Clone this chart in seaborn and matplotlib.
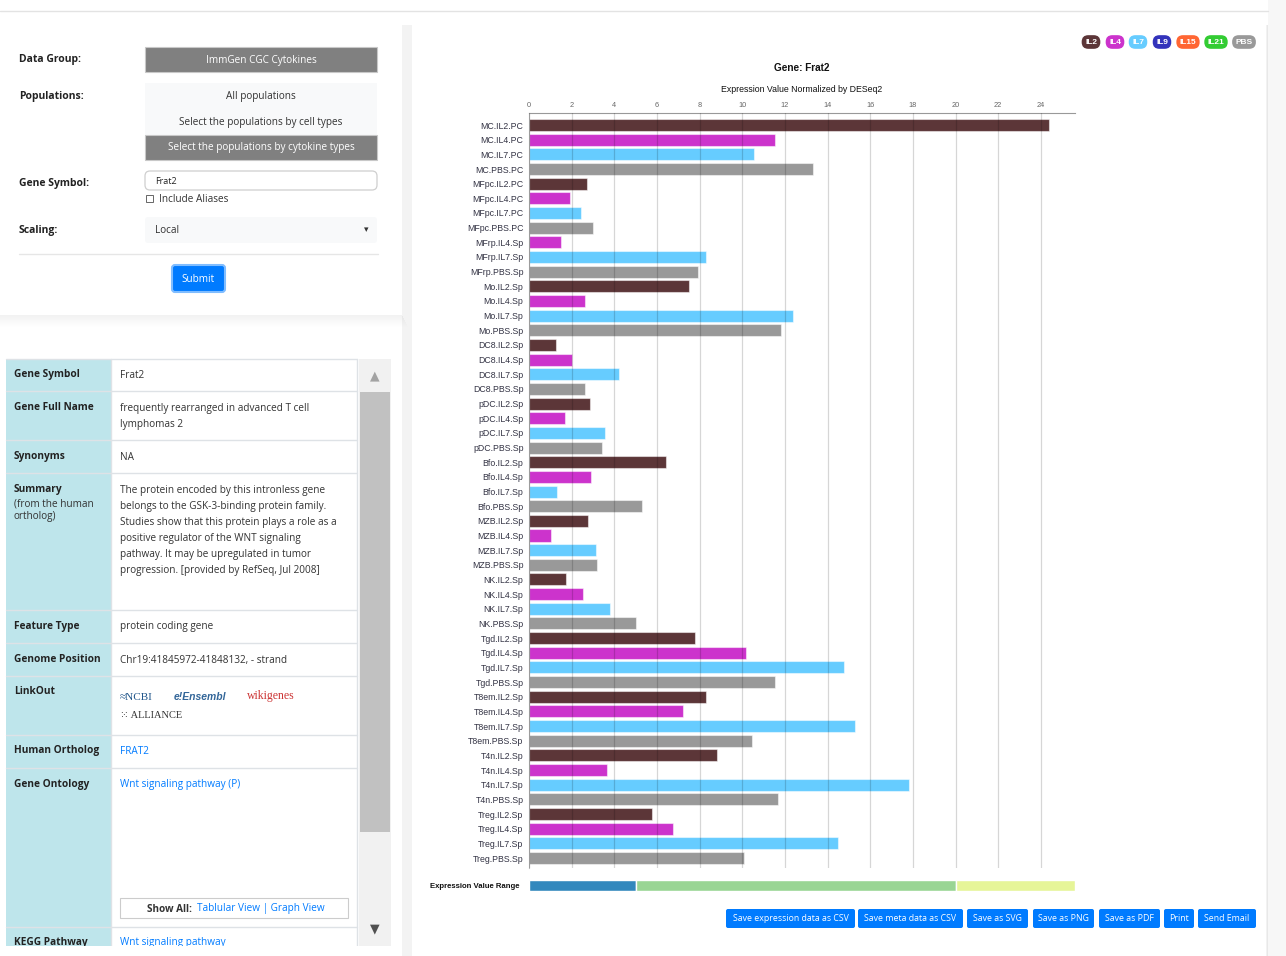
import matplotlib
matplotlib.use("Agg")
import matplotlib.pyplot as plt
from matplotlib.patches import FancyBboxPatch, Rectangle
import pandas as pd
import seaborn as sns

W, H = 1286, 956  # page size in pixels

# Expression data
samples = [
    "MC.IL2.PC", "MC.IL4.PC", "MC.IL7.PC", "MC.PBS.PC",
    "MFpc.IL2.PC", "MFpc.IL4.PC", "MFpc.IL7.PC", "MFpc.PBS.PC",
    "MFrp.IL4.Sp", "MFrp.IL7.Sp", "MFrp.PBS.Sp",
    "Mo.IL2.Sp", "Mo.IL4.Sp", "Mo.IL7.Sp", "Mo.PBS.Sp",
    "DC8.IL2.Sp", "DC8.IL4.Sp", "DC8.IL7.Sp", "DC8.PBS.Sp",
    "pDC.IL2.Sp", "pDC.IL4.Sp", "pDC.IL7.Sp", "pDC.PBS.Sp",
    "Bfo.IL2.Sp", "Bfo.IL4.Sp", "Bfo.IL7.Sp", "Bfo.PBS.Sp",
    "MZB.IL2.Sp", "MZB.IL4.Sp", "MZB.IL7.Sp", "MZB.PBS.Sp",
    "NK.IL2.Sp", "NK.IL4.Sp", "NK.IL7.Sp", "NK.PBS.Sp",
    "Tgd.IL2.Sp", "Tgd.IL4.Sp", "Tgd.IL7.Sp", "Tgd.PBS.Sp",
    "T8em.IL2.Sp", "T8em.IL4.Sp", "T8em.IL7.Sp", "T8em.PBS.Sp",
    "T4n.IL2.Sp", "T4n.IL4.Sp", "T4n.IL7.Sp", "T4n.PBS.Sp",
    "Treg.IL2.Sp", "Treg.IL4.Sp", "Treg.IL7.Sp", "Treg.PBS.Sp",
]
values = [
    24.4, 11.55, 10.55, 13.32,
    2.72, 1.94, 2.43, 3.0,
    1.48, 8.29, 7.92,
    7.51, 2.62, 12.39, 11.83,
    1.26, 2.02, 4.2, 2.63,
    2.85, 1.68, 3.55, 3.43,
    6.42, 2.92, 1.31, 5.3,
    2.77, 1.01, 3.14, 3.17,
    1.72, 2.53, 3.79, 5.02,
    7.79, 10.17, 14.79, 11.52,
    8.29, 7.21, 15.28, 10.45,
    8.81, 3.68, 17.83, 11.68,
    5.75, 6.74, 14.49, 10.08,
]
cytokines = [s.split(".")[1] for s in samples]

legend_labels = ["IL2", "IL4", "IL7", "IL9", "IL15", "IL21", "PBS"]
legend_colors = ["#5c3638", "#cc33cc", "#66ccff", "#3333bb", "#ff6633", "#33cc33", "#999999"]
palette = dict(zip(legend_labels, legend_colors))

x_ticks = [0, 2, 4, 6, 8, 10, 12, 14, 16, 18, 20, 22, 24]
x_max = 25.6

# Expression value range legend
range_breaks = [0, 5, 20, 25.6]
range_colors = ["#3288bd", "#99d594", "#e6f598"]

buttons = ["Save expression data as CSV", "Save meta data as CSV", "Save as SVG",
           "Save as PNG", "Save as PDF", "Print", "Send Email"]
button_x = [(726, 855), (858, 963), (967, 1028), (1033, 1094), (1099, 1160), (1164, 1194), (1198, 1256)]

sns.set_theme(style="white")
plt.rcParams["font.family"] = ["Liberation Sans", "DejaVu Sans"]
UI_FONT = ["Open Sans", "DejaVu Sans"]


def px(x0, y0, x1, y1):
    # pixel box -> figure fraction rect
    return [x0 / W, 1 - y1 / H, (x1 - x0) / W, (y1 - y0) / H]


def box(ax, x0, y0, x1, y1, fc, ec="none", lw=0, rounded=0, z=1, alpha=1):
    if rounded:
        p = FancyBboxPatch((x0, y0), x1 - x0, y1 - y0,
                           boxstyle=f"round,pad=0,rounding_size={rounded}",
                           fc=fc, ec=ec, lw=lw, zorder=z, alpha=alpha)
    else:
        p = Rectangle((x0, y0), x1 - x0, y1 - y0, fc=fc, ec=ec, lw=lw, zorder=z, alpha=alpha)
    ax.add_patch(p)


fig = plt.figure(figsize=(W / 100, H / 100), dpi=100)
fig.patch.set_facecolor("white")

bg = fig.add_axes([0, 0, 1, 1])
bg.set_xlim(0, W)
bg.set_ylim(H, 0)
bg.axis("off")

# page frame
bg.plot([0, 1268], [11, 11], color="#e3e3e3", lw=1)
box(bg, 1268, 0, W, H, "#f7f7f7")
# gutter between the two columns
box(bg, 402, 25, 412, H, "#f3f3f3", z=0.4)

# soft shadows under / beside the cards
for i in range(12):
    a = 0.05 * (1 - i / 12)
    box(bg, 0, 315 + i, 402 + i * 0.5, 316 + i, "black", z=0.5, alpha=a)
    box(bg, 1266 + i * 0.5, 25, 1267 + i * 0.5, H, "black", z=0.5, alpha=a)
box(bg, 0, 25, 402, 315, "white")
box(bg, 0, 345, 402, H, "white")
box(bg, 412, 25, 1266, H, "white")

# ---- query form ----
lab = dict(fontsize=7.5, fontweight="bold", color="#222", va="center", family=UI_FONT)
bg.text(19, 59, "Data Group:", **lab)
bg.text(19, 96, "Populations:", **lab)
bg.text(19, 183, "Gene Symbol:", **lab)
bg.text(19, 230, "Scaling:", **lab)

txt = dict(fontsize=7.2, va="center", ha="center", family=UI_FONT)
box(bg, 145, 47, 377, 72, "#808080", ec="#c8c8c8", lw=0.8)
bg.text(261, 60, "ImmGen CGC Cytokines", color="white", **txt)
box(bg, 145, 83, 377, 160, "#f8f9fa")
bg.text(261, 96, "All populations", color="#333", **txt)
bg.text(261, 122, "Select the populations by cell types", color="#333", **txt)
box(bg, 145, 135, 377, 160, "#808080", ec="#c8c8c8", lw=0.8)
bg.text(261, 147, "Select the populations by cytokine types", color="white", **txt)
box(bg, 145, 171, 377, 190, "white", ec="#cfcfcf", lw=0.9, rounded=5)
bg.text(155, 181, "Frat2", fontsize=6.5, color="#222", va="center", family=UI_FONT)
box(bg, 145.5, 195, 152.5, 202, "white", ec="#666", lw=0.7)
bg.text(159, 199, "Include Aliases", fontsize=7.2, color="#333", va="center", family=UI_FONT)
box(bg, 145, 217, 377, 243, "#f8f9fa", rounded=3)
bg.text(155, 230, "Local", fontsize=7.2, color="#333", va="center", family=UI_FONT)
bg.text(366, 230, "\u25be", fontsize=6.5, color="#333", va="center", ha="center", family=["DejaVu Sans"])
bg.plot([19, 378], [254, 254], color="#e6e6e6", lw=1)
box(bg, 172, 265, 225, 292, "#007bff", ec="#80bdff", lw=1.5, rounded=3)
bg.text(198.5, 279, "Submit", color="white", **txt)

# ---- gene info table ----
rows = [
    ("Gene Symbol", 359, 391), ("Gene Full Name", 391, 440), ("Synonyms", 440, 473),
    ("Summary", 473, 610), ("Feature Type", 610, 643), ("Genome Position", 643, 676),
    ("LinkOut", 676, 735), ("Human Ortholog", 735, 768), ("Gene Ontology", 768, 927),
    ("KEGG Pathway", 927, 960),
]
box(bg, 6, 359, 111, H, "#bee5eb")
for name, y0, y1 in rows:
    bg.plot([6, 357], [y0, y0], color="#dee2e6", lw=1)
    bg.text(14, y0 + 16, name, fontsize=7.3, fontweight="bold", color="#222", va="center", family=UI_FONT)
bg.plot([111, 111], [359, H], color="#dee2e6", lw=1)
bg.plot([357, 357], [359, H], color="#dee2e6", lw=1)
bg.text(14, 504, "(from the human", fontsize=7.2, color="#333", va="center", family=UI_FONT)
bg.text(14, 516, "ortholog)", fontsize=7.2, color="#333", va="center", family=UI_FONT)

val = dict(fontsize=7.2, color="#333", va="center", family=UI_FONT)
bg.text(120, 375, "Frat2", **val)
bg.text(120, 408, "frequently rearranged in advanced T cell", **val)
bg.text(120, 424, "lymphomas 2", **val)
bg.text(120, 457, "NA", **val)
summary_lines = [
    "The protein encoded by this intronless gene",
    "belongs to the GSK-3-binding protein family.",
    "Studies show that this protein plays a role as a",
    "positive regulator of the WNT signaling",
    "pathway. It may be upregulated in tumor",
    "progression. [provided by RefSeq, Jul 2008]",
]
for i, line in enumerate(summary_lines):
    bg.text(120, 490 + 16 * i, line, **val)
bg.text(120, 627, "protein coding gene", **val)
bg.text(120, 660, "Chr19:41845972-41848132, - strand", **val)
bg.text(120, 697, "\u2248NCBI", fontsize=8, color="#20558a", va="center", family=["Liberation Serif"])
bg.text(174, 697, "e!Ensembl", fontsize=7.5, color="#336699", va="center", style="italic", fontweight="bold")
bg.text(247, 696, "wikigenes", fontsize=8.5, color="#cc3333", va="center", family=["Liberation Serif"])
bg.text(120, 716, "\u2059 ALLIANCE", fontsize=7.5, color="#333", va="center", family=["Liberation Serif", "DejaVu Sans"])
bg.text(120, 752, "FRAT2", fontsize=7.2, color="#007bff", va="center", family=UI_FONT)
bg.text(120, 785, "Wnt signaling pathway (P)", fontsize=7.2, color="#007bff", va="center", family=UI_FONT)
box(bg, 120, 898, 348, 918, "white", ec="#cccccc", lw=0.8)
bg.text(147, 909, "Show All:", fontsize=7.2, fontweight="bold", color="#333", va="center", family=UI_FONT)
bg.text(197, 909, "Tablular View | Graph View", fontsize=7.2, color="#007bff", va="center", family=UI_FONT)
bg.text(120, 943, "Wnt signaling pathway", fontsize=7.2, color="#007bff", va="center", family=UI_FONT)
box(bg, 0, 946, 402, H, "white", z=3)

# scrollbar
box(bg, 359, 359, 391, 946, "#f1f1f1")
box(bg, 360, 392, 390, 832, "#c1c1c1")
bg.text(375, 376, "\u25b2", fontsize=9, color="#a3a3a3", ha="center", va="center", family=["DejaVu Sans"])
bg.text(375, 929, "\u25bc", fontsize=9, color="#505050", ha="center", va="center", family=["DejaVu Sans"])

# ---- chart card ----
for lbl, col, cx in zip(legend_labels, legend_colors, [1091, 1115, 1138, 1162, 1188, 1216, 1244]):
    bg.text(cx, 42, lbl, fontsize=6, fontweight="bold", color="white", ha="center", va="center",
            bbox=dict(boxstyle="round,pad=0.4,rounding_size=0.8", fc=col, ec="none"))

bg.text(802, 68, "Gene: Frat2", fontsize=7.2, fontweight="bold", color="#111", ha="center", va="center")
bg.text(802, 89, "Expression Value Normalized by DESeq2", fontsize=6.3, color="#111", ha="center", va="center")

df = pd.DataFrame({"sample": samples, "value": values, "cytokine": cytokines})
ax = fig.add_axes(px(529, 113, 1075, 868))
sns.barplot(data=df, y="sample", x="value", hue="cytokine", palette=palette, dodge=False,
            width=0.82, orient="h", ax=ax, legend=False, saturation=1,
            edgecolor=(1, 1, 1, 0.5), linewidth=0.8)
ax.set_xlim(0, x_max)
ax.set_ylim(len(samples) - 0.32, -0.82)
ax.xaxis.tick_top()
ax.set_xticks(x_ticks)
ax.tick_params(axis="x", length=0, pad=3, labelsize=5.3, labelcolor="#666")
ax.tick_params(axis="y", length=3, width=0.6, color="#999", pad=1, labelsize=6.3, labelcolor="#334")
ax.grid(axis="x", color="black", alpha=0.16, lw=0.9)
ax.grid(axis="y", visible=False)
ax.set_axisbelow(False)
ax.set_xlabel("")
ax.set_ylabel("")
for s in ["right", "bottom"]:
    ax.spines[s].set_visible(False)
ax.spines["top"].set_color("#999")
ax.spines["top"].set_linewidth(0.8)
ax.spines["left"].set_color("#bbb")
ax.spines["left"].set_linewidth(0.8)
ax.patch.set_alpha(0)

# expression range strip
rax = fig.add_axes(px(529, 880, 1075, 891))
starts = range_breaks[:-1]
widths = [b - a for a, b in zip(range_breaks[:-1], range_breaks[1:])]
rax.barh([0] * len(widths), widths, left=starts, color=range_colors, height=1)
rax.set_xlim(0, x_max)
rax.set_ylim(-0.5, 0.5)
rax.axis("off")
bg.text(519, 886, "Expression Value Range", fontsize=5.6, fontweight="bold", color="#111", ha="right", va="center")

# export buttons
for label, (x0, x1) in zip(buttons, button_x):
    box(bg, x0, 909, x1, 928, "#007bff", rounded=2)
    bg.text((x0 + x1) / 2, 918.5, label, fontsize=6.3, color="white", ha="center", va="center", family=UI_FONT)

fig.savefig("out.png", dpi=100)
